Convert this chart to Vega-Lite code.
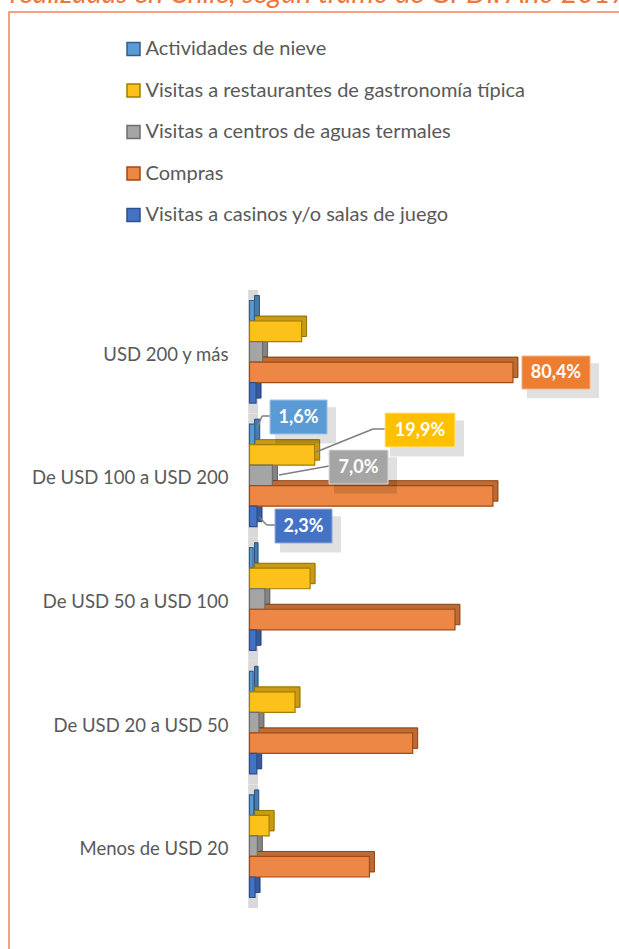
{
  "$schema": "https://vega.github.io/schema/vega-lite/v6.json",
  "width": 613,
  "height": 940,
  "autosize": {"type": "none"},
  "padding": {"left": 9, "top": 12, "right": -3, "bottom": -3},
  "background": "white",
  "config": {
    "view": {"stroke": "#f4845a", "strokeWidth": 1.5},
    "font": "Lato"
  },
  "title": {
    "text": "realizadas en Chile, según tramo de GPDI. Año 2017.",
    "anchor": "start",
    "orient": "top",
    "offset": 4,
    "dx": 1,
    "font": "Lato",
    "fontStyle": "italic",
    "fontWeight": "normal",
    "fontSize": 28.5,
    "color": "#f0763a"
  },
  "resolve": {"scale": {"yOffset": "independent"}},
  "datasets": {
    "barras": [
      {"tramo": "USD 200 y más", "serie": "Actividades de nieve", "valor": 1.5},
      {"tramo": "USD 200 y más", "serie": "Visitas a restaurantes de gastronomía típica", "valor": 15.9},
      {"tramo": "USD 200 y más", "serie": "Visitas a centros de aguas termales", "valor": 4.0},
      {"tramo": "USD 200 y más", "serie": "Compras", "valor": 80.4},
      {"tramo": "USD 200 y más", "serie": "Visitas a casinos y/o salas de juego", "valor": 2.0},
      {"tramo": "De USD 100 a USD 200", "serie": "Actividades de nieve", "valor": 1.6},
      {"tramo": "De USD 100 a USD 200", "serie": "Visitas a restaurantes de gastronomía típica", "valor": 19.9},
      {"tramo": "De USD 100 a USD 200", "serie": "Visitas a centros de aguas termales", "valor": 7.0},
      {"tramo": "De USD 100 a USD 200", "serie": "Compras", "valor": 74.3},
      {"tramo": "De USD 100 a USD 200", "serie": "Visitas a casinos y/o salas de juego", "valor": 2.3},
      {"tramo": "De USD 50 a USD 100", "serie": "Actividades de nieve", "valor": 1.1},
      {"tramo": "De USD 50 a USD 100", "serie": "Visitas a restaurantes de gastronomía típica", "valor": 18.5},
      {"tramo": "De USD 50 a USD 100", "serie": "Visitas a centros de aguas termales", "valor": 4.7},
      {"tramo": "De USD 50 a USD 100", "serie": "Compras", "valor": 62.7},
      {"tramo": "De USD 50 a USD 100", "serie": "Visitas a casinos y/o salas de juego", "valor": 2.0},
      {"tramo": "De USD 20 a USD 50", "serie": "Actividades de nieve", "valor": 1.1},
      {"tramo": "De USD 20 a USD 50", "serie": "Visitas a restaurantes de gastronomía típica", "valor": 13.9},
      {"tramo": "De USD 20 a USD 50", "serie": "Visitas a centros de aguas termales", "valor": 2.9},
      {"tramo": "De USD 20 a USD 50", "serie": "Compras", "valor": 49.8},
      {"tramo": "De USD 20 a USD 50", "serie": "Visitas a casinos y/o salas de juego", "valor": 2.2},
      {"tramo": "Menos de USD 20", "serie": "Actividades de nieve", "valor": 1.3},
      {"tramo": "Menos de USD 20", "serie": "Visitas a restaurantes de gastronomía típica", "valor": 6.0},
      {"tramo": "Menos de USD 20", "serie": "Visitas a centros de aguas termales", "valor": 2.4},
      {"tramo": "Menos de USD 20", "serie": "Compras", "valor": 36.6},
      {"tramo": "Menos de USD 20", "serie": "Visitas a casinos y/o salas de juego", "valor": 1.7}
    ],
    "etiquetas": [
      {"tramo": "USD 200 y más", "serie": "Compras", "valor": 80.4, "texto": "80,4%"},
      {"tramo": "De USD 100 a USD 200", "serie": "Actividades de nieve", "valor": 1.6, "texto": "1,6%"},
      {"tramo": "De USD 100 a USD 200", "serie": "Visitas a restaurantes de gastronomía típica", "valor": 19.9, "texto": "19,9%"},
      {"tramo": "De USD 100 a USD 200", "serie": "Visitas a centros de aguas termales", "valor": 7.0, "texto": "7,0%"},
      {"tramo": "De USD 100 a USD 200", "serie": "Visitas a casinos y/o salas de juego", "valor": 2.3, "texto": "2,3%"}
    ]
  },
  "encoding": {
    "y": {
      "field": "tramo",
      "type": "nominal",
      "sort": ["USD 200 y más", "De USD 100 a USD 200", "De USD 50 a USD 100", "De USD 20 a USD 50", "Menos de USD 20"],
      "scale": {"range": [278, 896], "paddingInner": 0.17, "paddingOuter": 0.085},
      "axis": {
        "title": null,
        "domain": false,
        "ticks": false,
        "tickSize": 0,
        "labelFontSize": 18.5,
        "labelFont": "Lato",
        "labelColor": "#595959",
        "labelPadding": 21.5,
        "labelOffset": 3,
        "labelLimit": 300,
        "offset": -240.5
      }
    },
    "x": {
      "field": "valor",
      "type": "quantitative",
      "scale": {"domain": [0, 100], "range": [240.5, 568.2], "nice": false},
      "axis": null
    }
  },
  "layer": [
    {
      "data": {"name": "barras"},
      "transform": [{"filter": "datum.serie === 'Compras'"}],
      "mark": {"type": "bar", "fill": "#d9d9d9", "strokeWidth": 0, "height": {"band": 1.205}},
      "encoding": {
        "x": {"datum": -0.4, "type": "quantitative"},
        "x2": {"datum": 2.6}
      }
    },
    {
      "data": {"name": "barras"},
      "mark": {"type": "bar", "strokeWidth": 1, "fillOpacity": 1, "xOffset": 5, "x2Offset": 5},
      "encoding": {
        "yOffset": {
          "field": "serie",
          "sort": ["Actividades de nieve", "Visitas a restaurantes de gastronomía típica", "Visitas a centros de aguas termales", "Compras", "Visitas a casinos y/o salas de juego"],
          "scale": {"paddingInner": 0, "paddingOuter": 0, "range": [-5, 97.6]}
        },
        "fill": {
          "field": "serie",
          "type": "nominal",
          "scale": {
            "domain": ["Actividades de nieve", "Visitas a restaurantes de gastronomía típica", "Visitas a centros de aguas termales", "Compras", "Visitas a casinos y/o salas de juego"],
            "range": ["#5b9bd5", "#fcc21b", "#a5a5a5", "#ec8745", "#4472c4"]
          },
          "legend": {
            "title": null,
            "orient": "none",
            "legendX": 114.5,
            "legendY": 27,
            "direction": "vertical",
            "padding": 0,
            "labelFontSize": 20,
            "labelFont": "Lato",
            "labelColor": "#595959",
            "labelOffset": 2,
            "rowPadding": 21.5,
            "symbolType": "square",
            "symbolSize": 169,
            "symbolStrokeWidth": 1.5,
            "labelLimit": 500
          }
        },
        "stroke": {
          "field": "serie",
          "type": "nominal",
          "scale": {
            "domain": ["Actividades de nieve", "Visitas a restaurantes de gastronomía típica", "Visitas a centros de aguas termales", "Compras", "Visitas a casinos y/o salas de juego"],
            "range": ["#2e5f8e", "#a07d00", "#6e6e6e", "#a24a12", "#2f4f8c"]
          },
          "legend": {
            "title": null,
            "orient": "none",
            "legendX": 114.5,
            "legendY": 27,
            "direction": "vertical",
            "padding": 0,
            "labelFontSize": 20,
            "labelFont": "Lato",
            "labelColor": "#595959",
            "labelOffset": 2,
            "rowPadding": 21.5,
            "symbolType": "square",
            "symbolSize": 169,
            "symbolStrokeWidth": 1.5,
            "labelLimit": 500
          }
        }
      }
    },
    {
      "data": {"name": "barras"},
      "mark": {"type": "bar", "fill": "#000000", "fillOpacity": 0.2, "strokeWidth": 0, "xOffset": 5, "x2Offset": 5},
      "encoding": {
        "yOffset": {
          "field": "serie",
          "sort": ["Actividades de nieve", "Visitas a restaurantes de gastronomía típica", "Visitas a centros de aguas termales", "Compras", "Visitas a casinos y/o salas de juego"],
          "scale": {"paddingInner": 0, "paddingOuter": 0, "range": [-5, 97.6]}
        }
      }
    },
    {
      "data": {"name": "barras"},
      "mark": {"type": "bar", "strokeWidth": 1.2, "fillOpacity": 1},
      "encoding": {
        "yOffset": {
          "field": "serie",
          "sort": ["Actividades de nieve", "Visitas a restaurantes de gastronomía típica", "Visitas a centros de aguas termales", "Compras", "Visitas a casinos y/o salas de juego"],
          "scale": {"paddingInner": 0, "paddingOuter": 0}
        },
        "fill": {"field": "serie", "type": "nominal"},
        "stroke": {"field": "serie", "type": "nominal"}
      }
    },
    {
      "data": {"name": "etiquetas"},
      "transform": [{"filter": "datum.serie === 'Actividades de nieve'"}],
      "mark": {"type": "rule", "color": "#7f7f7f", "strokeWidth": 1.5, "xOffset": 2.3, "yOffset": -47.4, "x2Offset": 7.3, "y2Offset": -59.4},
      "encoding": {"x2": {"field": "valor"}, "y2": {"field": "tramo"}}
    },
    {
      "data": {"name": "etiquetas"},
      "transform": [{"filter": "datum.serie === 'Actividades de nieve'"}],
      "mark": {"type": "rule", "color": "#7f7f7f", "strokeWidth": 1.5, "xOffset": 7.3, "yOffset": -59.4, "x2Offset": 15.3, "y2Offset": -59.4},
      "encoding": {"x2": {"field": "valor"}, "y2": {"field": "tramo"}}
    },
    {
      "data": {"name": "etiquetas"},
      "transform": [{"filter": "datum.serie === 'Visitas a restaurantes de gastronomía típica'"}],
      "mark": {"type": "rule", "color": "#7f7f7f", "strokeWidth": 1.5, "xOffset": 1.3, "yOffset": -23.4, "x2Offset": 58.3, "y2Offset": -46.4},
      "encoding": {"x2": {"field": "valor"}, "y2": {"field": "tramo"}}
    },
    {
      "data": {"name": "etiquetas"},
      "transform": [{"filter": "datum.serie === 'Visitas a restaurantes de gastronomía típica'"}],
      "mark": {"type": "rule", "color": "#7f7f7f", "strokeWidth": 1.5, "xOffset": 58.3, "yOffset": -46.4, "x2Offset": 70.3, "y2Offset": -46.4},
      "encoding": {"x2": {"field": "valor"}, "y2": {"field": "tramo"}}
    },
    {
      "data": {"name": "etiquetas"},
      "transform": [{"filter": "datum.serie === 'Visitas a centros de aguas termales'"}],
      "mark": {"type": "rule", "color": "#7f7f7f", "strokeWidth": 1.5, "xOffset": 6.6, "yOffset": -0.4, "x2Offset": 56.6, "y2Offset": -9.4},
      "encoding": {"x2": {"field": "valor"}, "y2": {"field": "tramo"}}
    },
    {
      "data": {"name": "etiquetas"},
      "transform": [{"filter": "datum.serie === 'Visitas a casinos y/o salas de juego'"}],
      "mark": {"type": "rule", "color": "#7f7f7f", "strokeWidth": 1.5, "xOffset": 2.3, "yOffset": 41.9, "x2Offset": 9.7, "y2Offset": 49.6},
      "encoding": {"x2": {"field": "valor"}, "y2": {"field": "tramo"}}
    },
    {
      "data": {"name": "etiquetas"},
      "transform": [{"filter": "datum.serie === 'Visitas a casinos y/o salas de juego'"}],
      "mark": {"type": "rule", "color": "#7f7f7f", "strokeWidth": 1.5, "xOffset": 9.7, "yOffset": 49.6, "x2Offset": 18, "y2Offset": 49.6},
      "encoding": {"x2": {"field": "valor"}, "y2": {"field": "tramo"}}
    },
    {
      "data": {"name": "etiquetas"},
      "transform": [{"filter": "datum.serie === 'Compras'"}],
      "mark": {"type": "point", "shape": "M-1,-0.485H1V0.485H-1Z", "size": 5184, "filled": true, "fill": "#000000", "opacity": 0.12, "strokeWidth": 0, "xOffset": 50, "yOffset": 29}
    },
    {
      "data": {"name": "etiquetas"},
      "transform": [{"filter": "datum.serie === 'Actividades de nieve'"}],
      "mark": {"type": "point", "shape": "M-1,-0.596H1V0.596H-1Z", "size": 3721, "filled": true, "fill": "#000000", "opacity": 0.12, "strokeWidth": 0, "xOffset": 50.8, "yOffset": -50}
    },
    {
      "data": {"name": "etiquetas"},
      "transform": [{"filter": "datum.serie === 'Visitas a restaurantes de gastronomía típica'"}],
      "mark": {"type": "point", "shape": "M-1,-0.486H1V0.486H-1Z", "size": 5476, "filled": true, "fill": "#000000", "opacity": 0.12, "strokeWidth": 0, "xOffset": 112.3, "yOffset": -37}
    },
    {
      "data": {"name": "etiquetas"},
      "transform": [{"filter": "datum.serie === 'Visitas a centros de aguas termales'"}],
      "mark": {"type": "point", "shape": "M-1,-0.576H1V0.576H-1Z", "size": 3969, "filled": true, "fill": "#000000", "opacity": 0.12, "strokeWidth": 0, "xOffset": 93.1, "yOffset": 0}
    },
    {
      "data": {"name": "etiquetas"},
      "transform": [{"filter": "datum.serie === 'Visitas a casinos y/o salas de juego'"}],
      "mark": {"type": "point", "shape": "M-1,-0.596H1V0.596H-1Z", "size": 3721, "filled": true, "fill": "#000000", "opacity": 0.12, "strokeWidth": 0, "xOffset": 53.5, "yOffset": 59}
    },
    {
      "data": {"name": "etiquetas"},
      "transform": [{"filter": "datum.serie === 'Compras'"}],
      "mark": {"type": "point", "shape": "M-1,-0.485H1V0.485H-1Z", "size": 4624, "filled": true, "fill": "#ed7d31", "opacity": 1, "stroke": "#f4b183", "strokeWidth": 1, "xOffset": 43, "yOffset": 20.7}
    },
    {
      "data": {"name": "etiquetas"},
      "transform": [{"filter": "datum.serie === 'Actividades de nieve'"}],
      "mark": {"type": "point", "shape": "M-1,-0.596H1V0.596H-1Z", "size": 3249, "filled": true, "fill": "#5b9bd5", "opacity": 1, "stroke": "#9dc3e6", "strokeWidth": 1, "xOffset": 43.8, "yOffset": -58.4}
    },
    {
      "data": {"name": "etiquetas"},
      "transform": [{"filter": "datum.serie === 'Visitas a restaurantes de gastronomía típica'"}],
      "mark": {"type": "point", "shape": "M-1,-0.486H1V0.486H-1Z", "size": 4900, "filled": true, "fill": "#ffc000", "opacity": 1, "stroke": "#ffe699", "strokeWidth": 1, "xOffset": 105.3, "yOffset": -45.4}
    },
    {
      "data": {"name": "etiquetas"},
      "transform": [{"filter": "datum.serie === 'Visitas a centros de aguas termales'"}],
      "mark": {"type": "point", "shape": "M-1,-0.576H1V0.576H-1Z", "size": 3481, "filled": true, "fill": "#a5a5a5", "opacity": 1, "stroke": "#dbdbdb", "strokeWidth": 1, "xOffset": 86.1, "yOffset": -8.4}
    },
    {
      "data": {"name": "etiquetas"},
      "transform": [{"filter": "datum.serie === 'Visitas a casinos y/o salas de juego'"}],
      "mark": {"type": "point", "shape": "M-1,-0.596H1V0.596H-1Z", "size": 3249, "filled": true, "fill": "#4472c4", "opacity": 1, "stroke": "#8faadc", "strokeWidth": 1, "xOffset": 46.5, "yOffset": 50.6}
    },
    {
      "data": {"name": "etiquetas"},
      "transform": [{"filter": "datum.serie === 'Compras'"}],
      "mark": {"type": "text", "font": "Lato", "fontWeight": "bold", "fontSize": 18, "color": "white", "align": "center", "baseline": "middle", "xOffset": 43, "yOffset": 21.2},
      "encoding": {"text": {"field": "texto"}}
    },
    {
      "data": {"name": "etiquetas"},
      "transform": [{"filter": "datum.serie === 'Actividades de nieve'"}],
      "mark": {"type": "text", "font": "Lato", "fontWeight": "bold", "fontSize": 18, "color": "white", "align": "center", "baseline": "middle", "xOffset": 43.8, "yOffset": -57.9},
      "encoding": {"text": {"field": "texto"}}
    },
    {
      "data": {"name": "etiquetas"},
      "transform": [{"filter": "datum.serie === 'Visitas a restaurantes de gastronomía típica'"}],
      "mark": {"type": "text", "font": "Lato", "fontWeight": "bold", "fontSize": 18, "color": "white", "align": "center", "baseline": "middle", "xOffset": 105.3, "yOffset": -44.9},
      "encoding": {"text": {"field": "texto"}}
    },
    {
      "data": {"name": "etiquetas"},
      "transform": [{"filter": "datum.serie === 'Visitas a centros de aguas termales'"}],
      "mark": {"type": "text", "font": "Lato", "fontWeight": "bold", "fontSize": 18, "color": "white", "align": "center", "baseline": "middle", "xOffset": 86.1, "yOffset": -7.9},
      "encoding": {"text": {"field": "texto"}}
    },
    {
      "data": {"name": "etiquetas"},
      "transform": [{"filter": "datum.serie === 'Visitas a casinos y/o salas de juego'"}],
      "mark": {"type": "text", "font": "Lato", "fontWeight": "bold", "fontSize": 18, "color": "white", "align": "center", "baseline": "middle", "xOffset": 46.5, "yOffset": 51.1},
      "encoding": {"text": {"field": "texto"}}
    }
  ]
}
